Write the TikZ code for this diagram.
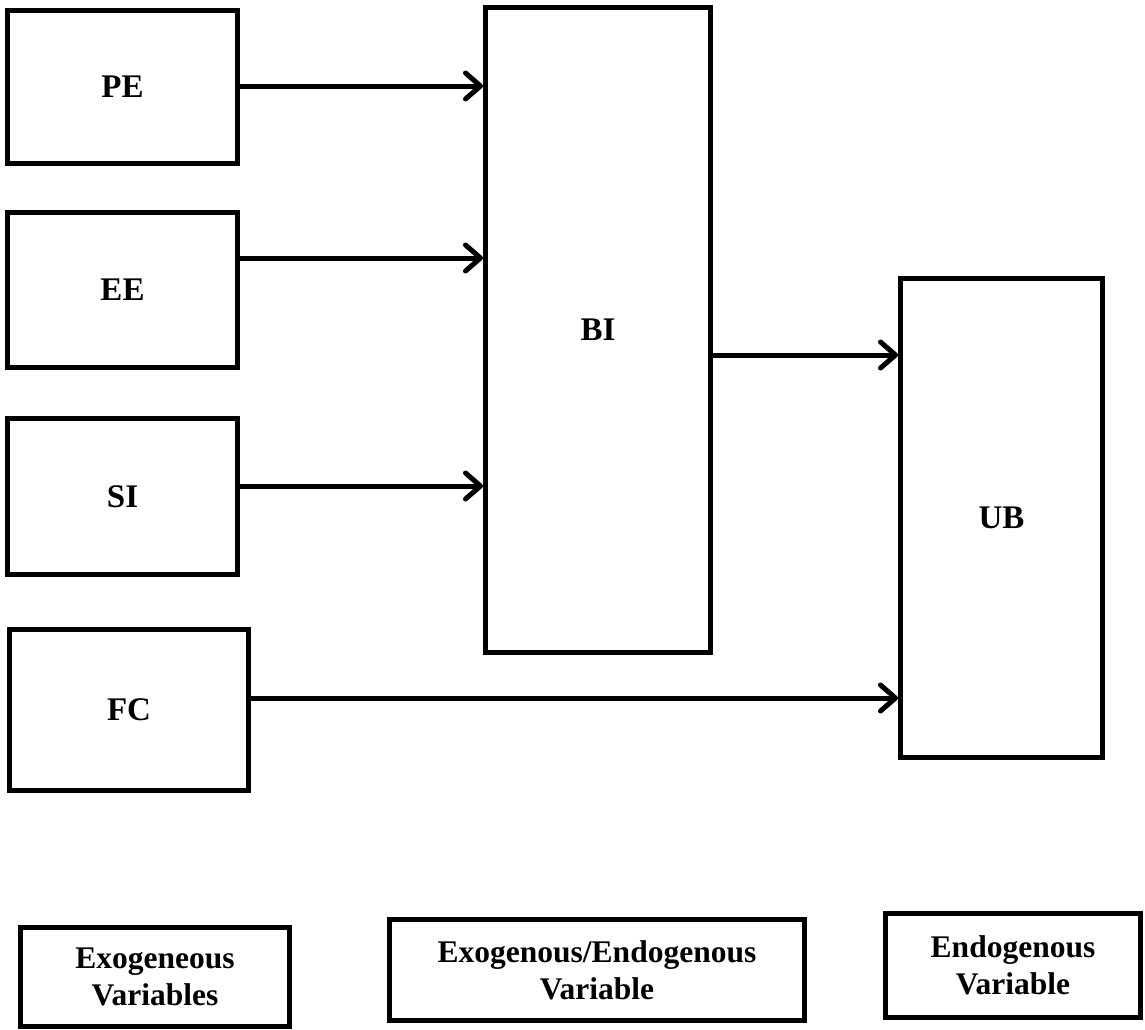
\documentclass[tikz,border=0pt]{standalone}
\usepackage{fontspec}
\setmainfont{Liberation Serif}
\usetikzlibrary{arrows.meta}
\begin{document}
\begin{tikzpicture}[x=1pt,y=-1pt,
  varbox/.style={draw=black, line width=5pt, fill=white, inner sep=0pt,
    font=\fontsize{33}{40}\selectfont\bfseries, align=center},
  keybox/.style={draw=black, line width=5pt, fill=white, inner sep=0pt,
    font=\fontsize{31.5}{37}\selectfont\bfseries, align=center},
  link/.style={draw=black, line width=5pt,
    -{Straight Barb[length=15pt, width=26pt, line cap=round, line join=round]}}]
\useasboundingbox (0,0) rectangle (1145,1029);

% constructs
\node[varbox, minimum width=230pt, minimum height=153pt] (PE) at (122.5,87) {PE};
\node[varbox, minimum width=230pt, minimum height=155pt] (EE) at (122.5,290) {EE};
\node[varbox, minimum width=230pt, minimum height=156pt] (SI) at (122.5,496.5) {SI};
\node[varbox, minimum width=239pt, minimum height=161pt] (FC) at (129,710) {FC};
\node[varbox, minimum width=225pt, minimum height=645pt] (BI) at (598,330) {BI};
\node[varbox, minimum width=202pt, minimum height=479pt] (UB) at (1001.5,518) {UB};

% paths
\draw[link] (PE.east |- 0,86) -- (BI.west |- 0,86);
\draw[link] (EE.east |- 0,258) -- (BI.west |- 0,258);
\draw[link] (SI.east |- 0,486) -- (BI.west |- 0,486);
\draw[link] (BI.east |- 0,355) -- (UB.west |- 0,355);
\draw[link] (FC.east |- 0,698) -- (UB.west |- 0,698);

% key
\node[keybox, minimum width=269pt, minimum height=99pt] (k1) at (155,977) {Exogeneous\\Variables};
\node[keybox, minimum width=415pt, minimum height=101pt] (k2) at (597,970) {Exogenous/Endogenous\\Variable};
\node[keybox, minimum width=255pt, minimum height=104pt] (k3) at (1013,965.5) {Endogenous\\Variable};
\end{tikzpicture}
\end{document}
